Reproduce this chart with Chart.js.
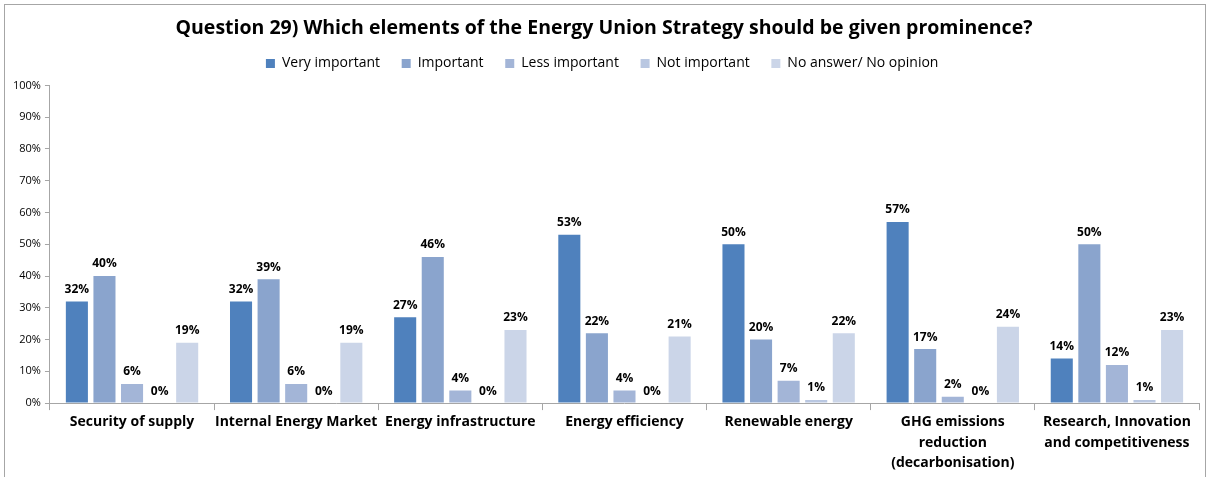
<!DOCTYPE html>
<html>
<head>
<meta charset="utf-8">
<script src="https://cdn.jsdelivr.net/npm/chart.js@4"></script>
<style>
  body { margin: 0; background: #fff; }
  #frame { position: absolute; left: 4px; top: 4px; width: 1202px; height: 480px; border: 1px solid #a6a6a6; box-sizing: border-box; }
  #chart-box { position: absolute; left: 0; top: 0; width: 1200px; height: 470px; }
</style>
</head>
<body>
<div id="frame"><div id="chart-box"><canvas id="q29Chart"></canvas></div></div>
<script>
// Data
//==============================
var categories = [
  "Security of supply",
  "Internal Energy Market",
  "Energy infrastructure",
  "Energy efficiency",
  "Renewable energy",
  ["GHG emissions", "reduction", "(decarbonisation)"],
  ["Research, Innovation", "and competitiveness"]
];
var veryImportant = [32, 32, 27, 53, 50, 57, 14];
var important = [40, 39, 46, 22, 20, 17, 50];
var lessImportant = [6, 6, 4, 4, 7, 2, 12];
var notImportant = [0, 0, 0, 0, 1, 0, 1];
var noAnswer = [19, 19, 23, 21, 22, 24, 23];
var seriesNames = ["Very important", "Important", "Less important", "Not important", "No answer/ No opinion"];
var seriesColors = ["#4f81bd", "#8aa4cd", "#a3b5d7", "#b9c7e1", "#cbd5e8"];

// Value labels above each bar
var barLabels = {
  id: "barLabels",
  afterDatasetsDraw: function (chart) {
    var ctx = chart.ctx;
    ctx.save();
    ctx.font = "bold 12px 'Open Sans', sans-serif";
    ctx.fillStyle = "#000";
    ctx.textAlign = "center";
    ctx.textBaseline = "bottom";
    chart.data.datasets.forEach(function (ds, i) {
      chart.getDatasetMeta(i).data.forEach(function (bar, j) {
        ctx.fillText(ds.data[j] + "%", bar.x, bar.y - 6);
      });
    });
    ctx.restore();
  }
};

// A bit more room under the legend
var legendGap = {
  id: "legendGap",
  beforeLayout: function (chart) {
    var legend = chart.legend;
    if (legend && !legend._gapAdded) {
      var fit = legend.fit;
      legend.fit = function () {
        fit.call(this);
        this.height += 5;
      };
      legend._gapAdded = true;
    }
  }
};

// Chart
//==============================
var allSeries = [veryImportant, important, lessImportant, notImportant, noAnswer];
var datasets = [];
for (var i = 0; i < allSeries.length; i++) {
  datasets.push({
    label: seriesNames[i],
    data: allSeries[i],
    backgroundColor: seriesColors[i],
    borderWidth: 0,
    barPercentage: 0.8,
    categoryPercentage: 0.84
  });
}

var ctx = document.getElementById("q29Chart");
var q29Chart = new Chart(ctx, {
  type: "bar",
  data: { labels: categories, datasets: datasets },
  plugins: [barLabels, legendGap],
  options: {
    responsive: true,
    maintainAspectRatio: false,
    animation: false,
    layout: { padding: { left: 4, right: 6, top: 0, bottom: 0 } },
    plugins: {
      title: {
        display: true,
        text: "Question 29) Which elements of the Energy Union Strategy should be given prominence?",
        color: "#000",
        font: { family: "'Open Sans', sans-serif", size: 19.5, weight: "bold" },
        padding: { top: 12, bottom: -2 }
      },
      legend: {
        labels: {
          color: "#000",
          boxWidth: 9,
          boxHeight: 9,
          padding: 18,
          font: { family: "'Open Sans', sans-serif", size: 14 },
          // a little extra room after each label, like the original spacing
          generateLabels: function (chart) {
            var items = Chart.defaults.plugins.legend.labels.generateLabels(chart);
            items.forEach(function (item) { item.text = item.text + " "; });
            return items;
          }
        }
      },
      tooltip: { enabled: false }
    },
    scales: {
      x: {
        grid: { offset: true, drawOnChartArea: false, tickLength: 7, color: "#a6a6a6" },
        border: { color: "#a6a6a6" },
        ticks: {
          color: "#000",
          maxRotation: 0,
          autoSkip: false,
          padding: 2,
          font: { family: "'Open Sans', sans-serif", size: 14, weight: "bold", lineHeight: 1.45 }
        }
      },
      y: {
        min: 0,
        max: 100,
        grid: { drawOnChartArea: false, tickLength: 5, color: "#a6a6a6" },
        border: { color: "#a6a6a6" },
        ticks: {
          stepSize: 10,
          color: "#000",
          padding: 4,
          font: { family: "'Open Sans', sans-serif", size: 11 },
          callback: function (v) { return v + "%"; }
        }
      }
    }
  }
});
</script>
</body>
</html>
